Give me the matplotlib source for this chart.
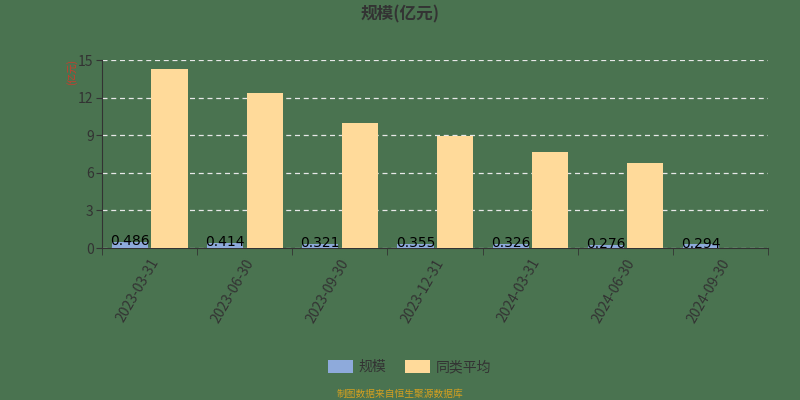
import matplotlib
matplotlib.use('Agg')
import matplotlib.pyplot as plt
from matplotlib.patches import Patch
import numpy as np

plt.rcParams['font.family'] = ['Noto Sans CJK SC', 'DejaVu Sans']

##------------------------------------------------------##
# data
dates = ['2023-03-31', '2023-06-30', '2023-09-30', '2023-12-31',
         '2024-03-31', '2024-06-30', '2024-09-30']
scale = [0.486, 0.414, 0.321, 0.355, 0.326, 0.276, 0.294]
peer_avg = [14.28, 12.37, 9.97, 8.94, 7.66, 6.78, 0.0]
yticks = [0, 3, 6, 9, 12, 15]

bg = '#4a7350'
blue = '#8eaadb'
yellow = '#ffda9a'
txt = '#333333'

fig = plt.figure(figsize=(8, 4), dpi=100, facecolor=bg)
ax = fig.add_axes([0.1275, 0.38, 0.8325, 0.47])
ax.set_facecolor(bg)

x = np.arange(len(dates))
w = 0.38
ax.bar(x - 0.205, scale, w, color=blue, zorder=3)
ax.bar(x + 0.21, peer_avg, w, color=yellow, zorder=3)

# value labels sit on top of the small bars, overlapping them
for xi, v in zip(x, scale):
    ax.text(xi - 0.205, v + 0.05, '%.3f' % v, ha='center', va='center',
            fontsize=10, color='black', zorder=4, family=['DejaVu Sans'])

ax.set_xlim(-0.5, len(dates) - 0.5)
ax.set_ylim(0, 15)
ax.set_yticks(yticks)
ax.set_yticklabels([str(t) for t in yticks], color=txt, fontsize=10)
ax.yaxis.grid(True, linestyle=(0, (4, 3)), color='#e8e8e8', linewidth=0.9, zorder=1)

ax.set_xticks(x)
ax.set_xticklabels(dates, rotation=60, ha='right', rotation_mode='anchor',
                   color=txt, fontsize=10)
ax.tick_params(axis='x', length=0, pad=6)
ax.set_xticks(np.arange(-0.5, len(dates), 1.0), minor=True)
ax.tick_params(axis='x', which='minor', length=5, color=txt)
ax.tick_params(axis='y', length=4, color=txt, pad=2)

for s in ['top', 'right']:
    ax.spines[s].set_visible(False)
ax.spines['left'].set_color(txt)
ax.spines['bottom'].set_color(txt)

fig.text(0.5, 0.965, '规模(亿元)', ha='center', va='center',
         fontsize=12, fontweight='bold', color=txt)
fig.text(0.09, 0.82, '(亿元)', ha='center', va='center', rotation=90,
         fontsize=7, color='#d03a2a')

handles = [Patch(facecolor=blue, label='规模'),
           Patch(facecolor=yellow, label='同类平均')]
fig.legend(handles=handles, loc='center', bbox_to_anchor=(0.512, 0.082),
           ncol=2, frameon=False, fontsize=10, handlelength=1.8,
           handleheight=1.0, columnspacing=1.4, handletextpad=0.4,
           labelcolor=txt)

fig.text(0.5, 0.015, '制图数据来自恒生聚源数据库', ha='center', va='center',
         fontsize=7, color='#d4a020')

plt.savefig('out.png', dpi=100, facecolor=bg)
